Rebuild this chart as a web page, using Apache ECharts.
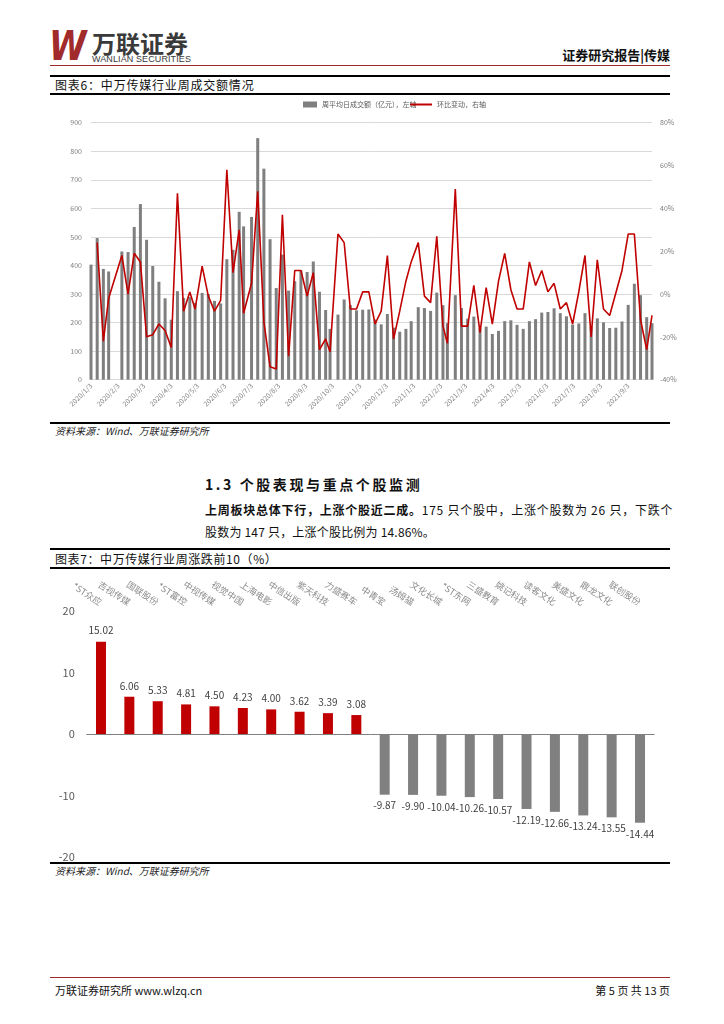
<!DOCTYPE html>
<html><head><meta charset="utf-8">
<script src="https://cdn.jsdelivr.net/npm/echarts@6/dist/echarts.min.js"></script>
<style>
body{margin:0;width:724px;height:1024px;background:#fff;position:relative;overflow:hidden;font-family:"Noto Sans CJK SC","Noto Sans",sans-serif;color:#222;}
.abs{position:absolute;white-space:nowrap;line-height:1;}
.hl{position:absolute;left:50px;width:620px;background:#000;}
#chart{position:absolute;left:0;top:0;width:724px;height:1024px;}
.src{position:absolute;left:55px;font-size:10px;font-style:italic;color:#222;line-height:1;}
</style></head><body>
<div class="abs" style="left:49px;top:26px;font:italic bold 40px 'DejaVu Sans';line-height:1;color:#a12b2b;transform:scaleX(0.85);transform-origin:left top;">W</div>
<div class="abs" style="left:92px;top:31px;font-size:24px;font-weight:bold;color:#3a3a3a;">万联证券</div>
<div class="abs" style="left:92px;top:55px;font:9px 'Liberation Sans';line-height:1;color:#3a3a3a;letter-spacing:0.1px;">WANLIAN SECURITIES</div>
<div class="abs" style="right:54px;top:48px;font-size:13px;font-weight:bold;color:#111;">证券研究报告|传媒</div>
<div class="abs" style="left:50px;top:65px;width:620px;height:1px;background:#a12b2b;"></div>

<div class="hl" style="top:75px;height:2px;"></div>
<div class="abs" style="left:55px;top:79px;font-size:12px;color:#111;letter-spacing:0.8px;">图表6：中万传媒行业周成交额情况</div>
<div class="hl" style="top:93px;height:1.5px;"></div>
<div class="hl" style="top:422px;height:2px;"></div>
<div class="src" style="top:426px;">资料来源：Wind、万联证券研究所</div>

<div class="abs" style="left:205px;top:477px;font-size:14px;font-weight:bold;color:#111;letter-spacing:2.6px;">1.3 个股表现与重点个股监测</div>
<div class="abs" style="left:205px;top:504px;font-size:12px;color:#111;letter-spacing:0.75px;"><b>上周板块总体下行，上涨个股近二成。</b>175 只个股中，上涨个股数为 26 只，下跌个</div>
<div class="abs" style="left:205px;top:526px;font-size:12px;color:#111;letter-spacing:0.2px;">股数为 147 只，上涨个股比例为 14.86%。</div>

<div class="hl" style="top:548px;height:2px;"></div>
<div class="abs" style="left:55px;top:553px;font-size:12px;color:#111;letter-spacing:0.6px;">图表7：中万传媒行业周涨跌前10（%）</div>
<div class="hl" style="top:567px;height:1.5px;"></div>
<div class="hl" style="top:862px;height:2px;"></div>
<div class="src" style="top:866px;">资料来源：Wind、万联证券研究所</div>

<div class="abs" style="left:50px;top:977px;width:620px;height:1px;background:#a12b2b;"></div>
<div class="abs" style="left:55px;top:985px;font-size:11px;color:#111;">万联证券研究所 www.wlzq.cn</div>
<div class="abs" style="right:54px;top:985px;font-size:11px;color:#111;">第 5 页 共 13 页</div>

<div id="chart"></div>
<script>
// ---- Chart 1 data: weekly turnover ----
const weekDates = ['2020/1/3','2020/1/10','2020/1/17','2020/1/23','2020/2/7','2020/2/14','2020/2/21','2020/2/28','2020/3/6','2020/3/13','2020/3/20','2020/3/27','2020/4/3','2020/4/10','2020/4/17','2020/4/24','2020/4/30','2020/5/8','2020/5/15','2020/5/22','2020/5/29','2020/6/5','2020/6/12','2020/6/19','2020/6/24','2020/7/3','2020/7/10','2020/7/17','2020/7/24','2020/7/31','2020/8/7','2020/8/14','2020/8/21','2020/8/28','2020/9/4','2020/9/11','2020/9/18','2020/9/25','2020/9/30','2020/10/9','2020/10/16','2020/10/23','2020/10/30','2020/11/6','2020/11/13','2020/11/20','2020/11/27','2020/12/4','2020/12/11','2020/12/18','2020/12/25','2020/12/31','2021/1/8','2021/1/15','2021/1/22','2021/1/29','2021/2/5','2021/2/10','2021/2/19','2021/2/26','2021/3/5','2021/3/12','2021/3/19','2021/3/26','2021/4/2','2021/4/9','2021/4/16','2021/4/23','2021/4/30','2021/5/7','2021/5/14','2021/5/21','2021/5/28','2021/6/4','2021/6/11','2021/6/18','2021/6/25','2021/7/2','2021/7/9','2021/7/16','2021/7/23','2021/7/30','2021/8/6','2021/8/13','2021/8/20','2021/8/27','2021/9/3','2021/9/10','2021/9/17','2021/9/24','2021/9/30'];
const turnover = [403,496,388,379,449,447,535,615,490,398,343,285,210,310,286,289,269,304,300,276,267,422,455,588,537,570,846,739,492,321,438,312,345,383,377,414,308,244,178,228,281,261,243,245,246,211,194,230,182,168,178,205,254,251,241,305,261,198,296,251,214,221,180,186,160,171,205,208,192,178,205,212,235,237,250,233,222,193,197,233,185,215,201,181,182,204,262,336,296,219,198];
const wowChange = [null,24,-22,-2,18,0,19,15,-20,-19,-14,-17,-25,47,-8,1,-7,13,-1,-8,-3,58,10,30,-9,5,48,-13,-34,-35,37,-29,11,11,-1,10,-26,-21,-27,28,24,-7,-7,1,1,-14,-8,18,-21,-8,6,15,24,-1,-4,27,-15,-23,49,-15,-15,4,-18,3,-14,6,19,2,-7,-7,15,4,11,1,5,-7,-4,-14,1,18,-20,16,-7,-10,0.5,11,28,28,-12,-26,-10];
const turnoverName = '周平均日成交额（亿元），左轴';
const changeName = '环比变动，右轴';

// ---- Chart 2 data: weekly top / bottom 10 ----
const moverNames = ['*ST众应','吉视传媒','国联股份','*ST富控','中视传媒','视觉中国','上海电影','中信出版','紫天科技','力盛赛车','中青宝','汤姆猫','文化长城','*ST东网','三盛教育','姚记科技','读客文化','美盛文化','鼎龙文化','联创股份'];
const moverValues = [15.02,6.06,5.33,4.81,4.50,4.23,4.00,3.62,3.39,3.08,-9.87,-9.90,-10.04,-10.26,-10.57,-12.19,-12.66,-13.24,-13.55,-14.44];

// build daily category axis for the date axis
function parseD(s){const p=s.split('/').map(Number);return new Date(p[0],p[1]-1,p[2]);}
function fmt(d){return d.getFullYear()+'/'+(d.getMonth()+1)+'/'+d.getDate();}
const days=[];
{const d=parseD(weekDates[0]);const end=parseD(weekDates[weekDates.length-1]);
 while(d<=end){days.push(fmt(d));d.setDate(d.getDate()+1);}}
const idx={};days.forEach((s,i)=>idx[s]=i);
const barDaily=days.map(()=>null), lineDaily=days.map(()=>null);
weekDates.forEach((s,i)=>{barDaily[idx[s]]=turnover[i];lineDaily[idx[s]]=wowChange[i];});

const gray='#7f7f7f', red='#C00000', lab='#7f7f7f';
const chart=echarts.init(document.getElementById('chart'));
chart.setOption({
  animation:false,
  textStyle:{fontFamily:'"Noto Sans CJK SC","Noto Sans",sans-serif'},
  legend:[
    {data:[{name:turnoverName,icon:'rect'}],left:298,top:96,itemWidth:14,itemHeight:6,textStyle:{fontSize:7,color:'#595959'}},
    {data:[{name:changeName,icon:'rect'}],left:405,top:96,itemWidth:22,itemHeight:2,textStyle:{fontSize:7,color:'#595959'}}
  ],
  grid:[
    {left:91,right:72,top:122.7,height:257},
    {left:86.8,right:69.8,top:611,height:246}
  ],
  xAxis:[
    {gridIndex:0,type:'category',data:days,boundaryGap:false,
     axisLine:{show:true,lineStyle:{color:'#d9d9d9'}},axisTick:{show:false},
     axisLabel:{interval:(i,v)=>v.split('/')[2]==='3',rotate:45,fontSize:7,color:lab,margin:5}},
    {gridIndex:1,type:'category',data:moverNames,position:'top',
     axisLine:{show:false,onZero:false},axisTick:{show:false},
     axisLabel:{interval:0,rotate:33,fontSize:9,color:'#8c8c8c',margin:8}},
    {gridIndex:1,type:'category',data:moverNames,position:'bottom',
     axisLine:{show:true,onZero:true,lineStyle:{color:'#808080'}},axisTick:{show:false},axisLabel:{show:false}}
  ],
  yAxis:[
    {gridIndex:0,type:'value',min:0,max:900,interval:100,
     axisLine:{show:false},axisTick:{show:false},
     axisLabel:{fontSize:7,color:lab,margin:9},
     splitLine:{lineStyle:{color:'#d9d9d9'}}},
    {gridIndex:0,type:'value',min:-40,max:80,interval:20,position:'right',
     axisLine:{show:false},axisTick:{show:false},
     axisLabel:{fontSize:7,color:lab,margin:8,formatter:'{value}%'},splitLine:{show:false}},
    {gridIndex:1,type:'value',min:-20,max:20,interval:10,
     axisLine:{show:false},axisTick:{show:false},
     axisLabel:{fontSize:11,color:'#595959',margin:12},splitLine:{show:false}}
  ],
  series:[
    {name:turnoverName,type:'bar',xAxisIndex:0,yAxisIndex:0,data:barDaily,barWidth:3,
     itemStyle:{color:gray},clip:false},
    {name:changeName,type:'line',xAxisIndex:0,yAxisIndex:1,data:lineDaily,connectNulls:true,
     symbol:'none',lineStyle:{color:red,width:1.6},itemStyle:{color:red}},
    {type:'bar',xAxisIndex:1,yAxisIndex:2,barWidth:10,
     data:moverValues.map(v=>({value:v,itemStyle:{color:v>=0?red:'#808080'},
       label:{position:v>=0?'top':'bottom'}})),
     label:{show:true,fontSize:10,color:'#404040',distance:6,formatter:p=>p.value.toFixed(2)}}
  ]
});
</script>
</body></html>
